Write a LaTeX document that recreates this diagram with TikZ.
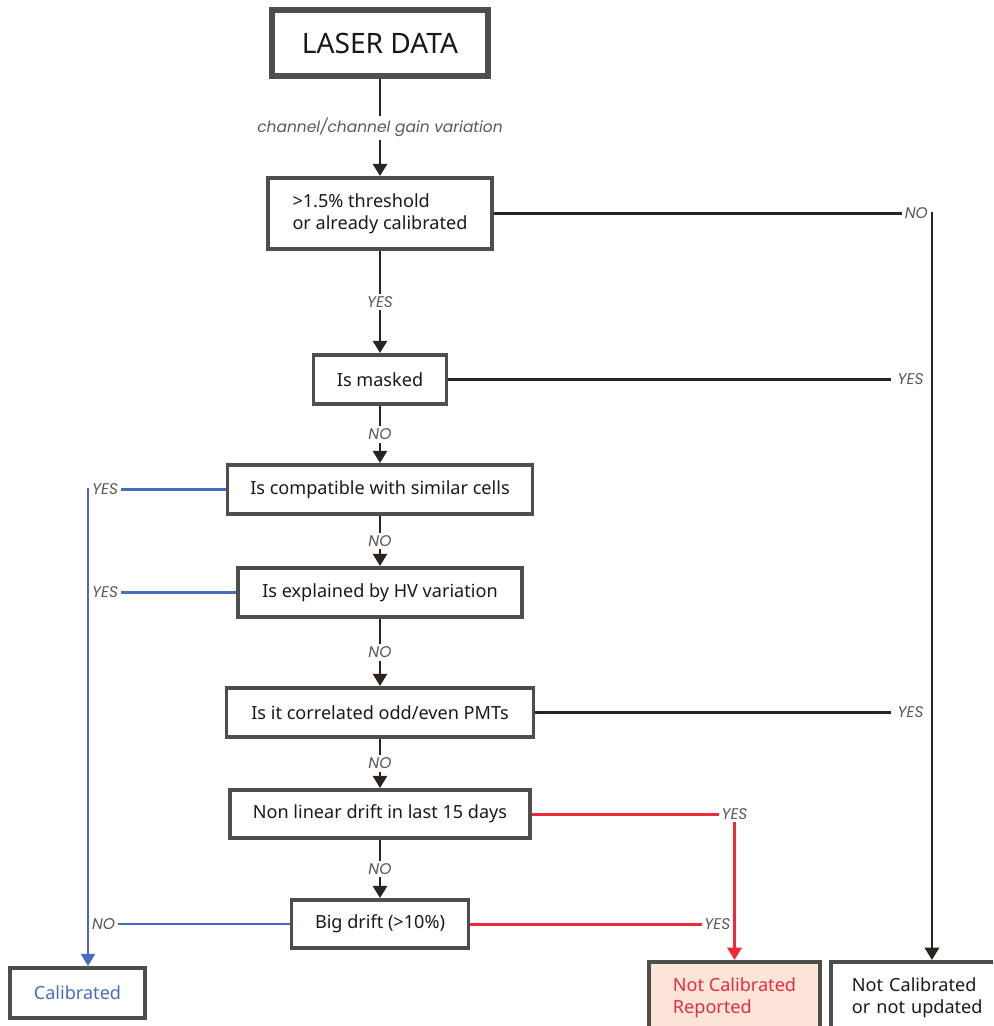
\documentclass[tikz,border=0pt]{standalone}
\usepackage{fontspec}
\setmainfont{Noto Sans}
\newfontfamily\lblfont{Poppins}
\usetikzlibrary{arrows.meta}
\definecolor{boxgray}{HTML}{4D4F4A}
\definecolor{linebrown}{HTML}{2B231D}
\definecolor{lineblue}{HTML}{4A6CC0}
\definecolor{linered}{HTML}{EC2A3A}
\definecolor{lblgray}{HTML}{5E5853}
\definecolor{peach}{HTML}{FBE5D8}

\begin{document}
\begin{tikzpicture}[x=0.02cm,y=-0.02cm,>={Triangle[length=7pt,width=8pt]},
 box/.style={draw=boxgray,line width=2.2pt,minimum height=0.98cm,
 font=\fontsize{10.3}{12.5}\selectfont,text=black!90,inner sep=3pt},
 lbl/.style={font=\lblfont\itshape\fontsize{8.8}{10}\selectfont,text=lblgray,
 fill=white,inner sep=1.5pt},
 flow/.style={draw=linebrown,line width=1.6pt},
 yesline/.style={draw=lineblue,line width=1.6pt},
 redline/.style={draw=linered,line width=1.7pt}]
\useasboundingbox (0,0) rectangle (993,1026);
\clip (0,0) rectangle (993,1026);
% decision chain
\node[box,line width=3.4pt,minimum width=4.32cm,minimum height=1.32cm,
 font=\fontsize{16}{19}\selectfont] (laser) at (380,43) {LASER DATA};
\node[box,align=left,minimum width=4.48cm,minimum height=1.42cm] (thr) at (380,213.5)
 {>1.5\% threshold\\or already calibrated};
\node[box,minimum width=2.66cm] (mask) at (380,379.5) {Is masked};
\node[box,minimum width=6.1cm] (comp) at (380,489.5) {Is compatible with similar cells};
\node[box,minimum width=5.68cm] (hv) at (380,592.5) {Is explained by HV variation};
\node[box,minimum width=6.14cm] (corr) at (380,712.5) {Is it correlated odd/even PMTs};
\node[box,minimum width=6cm,minimum height=0.96cm] (nl) at (380,814) {Non linear drift in last 15 days};
\node[box,minimum width=3.54cm,minimum height=0.96cm] (big) at (380,924) {Big drift (>10\%)};
% outcomes
\node[box,minimum width=2.7cm,minimum height=1cm,text=lineblue] (cal) at (77.5,993) {Calibrated};
\node[box,align=left,fill=peach,minimum width=3.42cm,minimum height=1.42cm,text=linered,
 anchor=north] (ncr) at (734.5,960) {Not Calibrated\\Reported};
\node[box,align=left,text width=3.2cm,inner xsep=0.42cm,minimum height=1.42cm,
 anchor=north west] (ncu) at (829,960) {Not Calibrated\\or not updated};
\coordinate (calin) at ([xshift=0.21cm]cal.north);
% connectors
\draw[flow,->] (laser) -- node[lbl]{channel/channel gain variation} (thr);
\draw[flow,->] (thr) -- node[lbl]{YES} (mask);
\draw[flow,->] (mask) -- node[lbl]{NO} (comp);
\draw[flow,->] (comp) -- node[lbl]{NO} (hv);
\draw[flow,->] (hv) -- node[lbl]{NO} (corr);
\draw[flow,->] (corr) -- node[lbl]{NO} (nl);
\draw[flow,->] (nl) -- node[lbl]{NO} (big);
\draw[flow,->] (thr) -| node[lbl,pos=0.5,anchor=east]{NO} (ncu);
\draw[flow] (mask) -- node[lbl,at end,anchor=east,inner xsep=4pt]{YES} (mask -| ncu);
\draw[flow] (corr) -- node[lbl,at end,anchor=east,inner xsep=4pt]{YES} (corr -| ncu);
\draw[yesline,->] (comp) -| node[lbl,pos=0.5,anchor=west]{YES} (calin);
\draw[yesline] (hv) -- node[lbl,at end,anchor=west]{YES} (hv -| calin);
\draw[yesline] (big) -- node[lbl,at end,anchor=west]{NO} (big -| calin);
\draw[redline,->] (nl) -| node[lbl,pos=0.5]{YES} (ncr);
\draw[redline] (big) -- node[lbl,at end,anchor=east]{YES} (big -| ncr);
\end{tikzpicture}
\end{document}
